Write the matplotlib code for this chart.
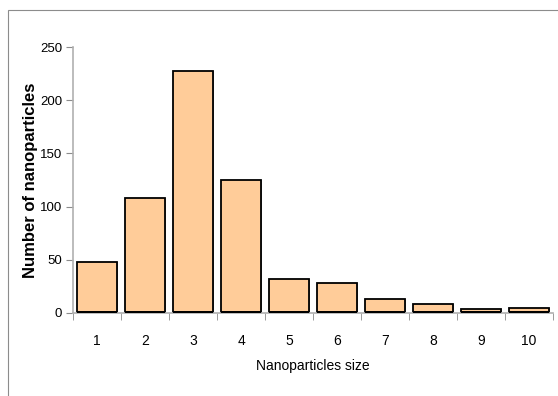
import matplotlib

matplotlib.use("Agg")
import matplotlib.pyplot as plt
from matplotlib.patches import Rectangle

# nanoparticle size classes and counts
sizes = ["1", "2", "3", "4", "5", "6", "7", "8", "9", "10"]
counts = [48, 108, 228, 125, 32, 28, 13, 8, 3.5, 4.5]
y_ticks = [0, 50, 100, 150, 200, 250]

plt.rcParams["font.family"] = ["Liberation Sans Narrow", "Liberation Sans", "DejaVu Sans"]

fig = plt.figure(figsize=(5.58, 3.96), dpi=100)
ax = fig.add_axes([0.131, 0.21, 0.86, 0.671])

# outer chart frame
fig.patches.append(Rectangle((0.014, -0.1), 1.2, 1.075, transform=fig.transFigure,
                             fill=False, edgecolor="#8c8c8c", linewidth=0.8))

x = range(len(sizes))
# drop shadow to the right of each bar
ax.bar([i + 0.03 for i in x], counts, width=0.83, color="#8a8a8a", zorder=1)
ax.bar(x, counts, width=0.83, color="#FFCC99", edgecolor="black", linewidth=1.3, zorder=2)
# thick black base on each bar
ax.bar(x, [1.5] * len(sizes), width=0.83, color="black", zorder=3)

ax.set_xlim(-0.5, len(sizes) - 0.5)
ax.set_ylim(0, 250)
ax.set_yticks(y_ticks)
ax.set_xticks(list(x))
ax.set_xticklabels(sizes)
ax.set_xticks([i + 0.5 for i in range(-1, len(sizes))], minor=True)
ax.tick_params(axis="x", which="major", length=0, pad=15, labelsize=10)
ax.tick_params(axis="x", which="minor", length=5, color="#8c8c8c", direction="out")
ax.tick_params(axis="y", length=5, color="#8c8c8c", direction="out", labelsize=9.5, pad=3)

for side in ("top", "right"):
    ax.spines[side].set_visible(False)
for side in ("left", "bottom"):
    ax.spines[side].set_color("#b0b0b0")
    ax.spines[side].set_linewidth(1.2)

ax.set_xlabel("Nanoparticles size", fontsize=10, labelpad=8)
ax.set_ylabel("Number of nanoparticles", fontsize=12, fontweight="bold",
              family=["Liberation Sans", "DejaVu Sans"])
ax.yaxis.set_label_coords(-0.074, 0.5)

fig.savefig("out.png", dpi=100)
